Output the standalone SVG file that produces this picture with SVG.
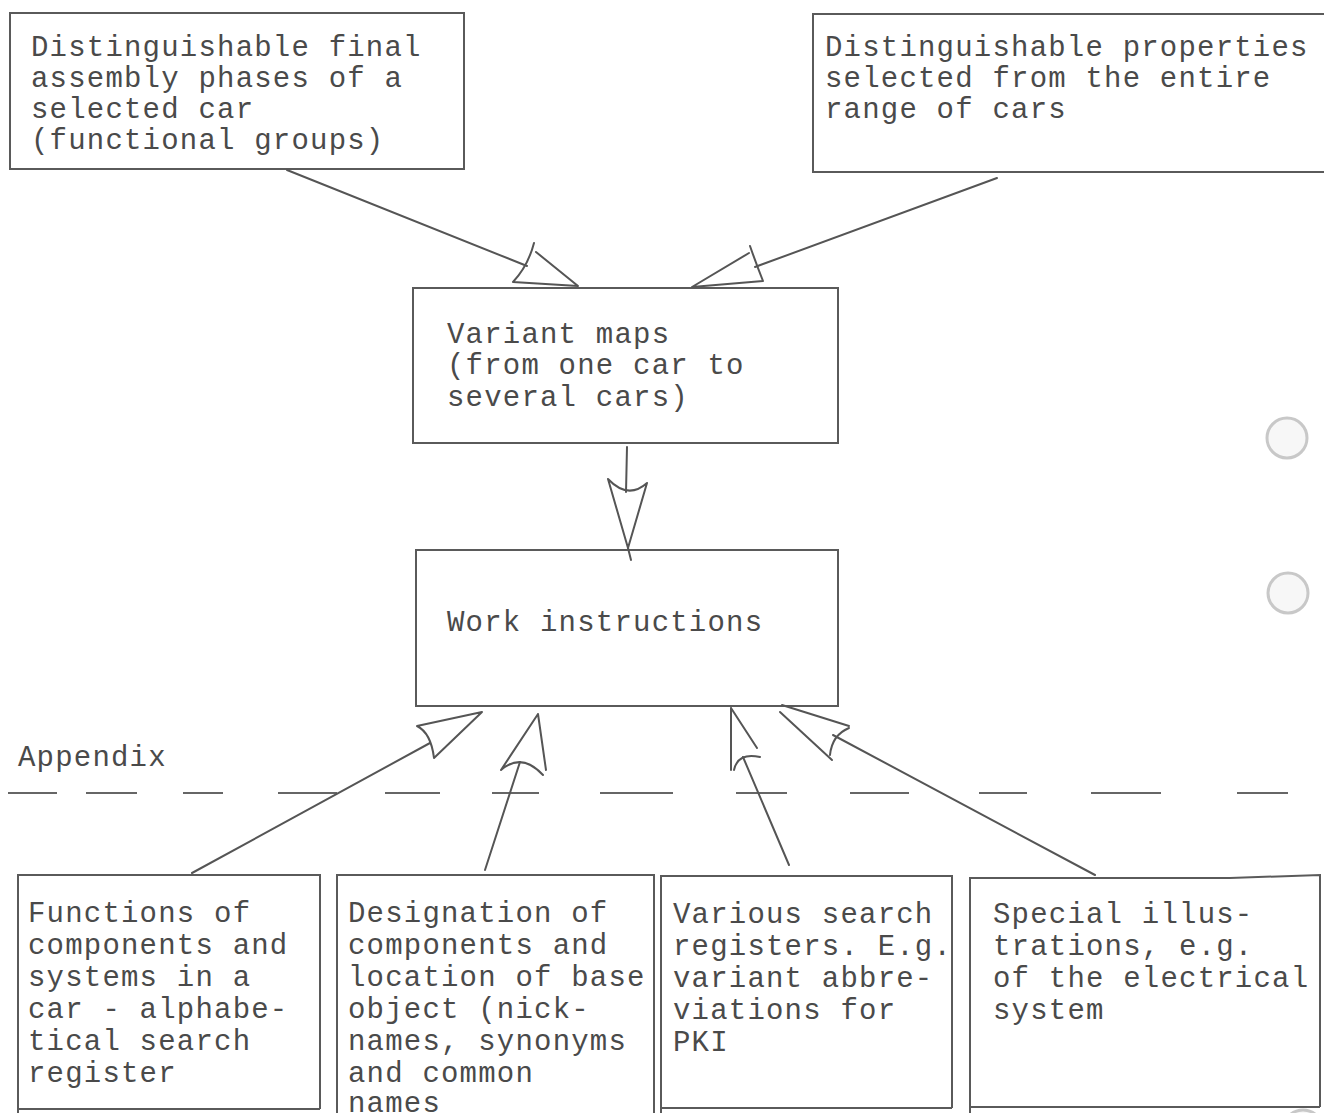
<svg xmlns="http://www.w3.org/2000/svg" width="1324" height="1113" viewBox="0 0 1324 1113">
<style>
.bx{fill:none;stroke:#5a5a5a;stroke-width:2}
.t{font-family:"Liberation Mono","DejaVu Sans Mono",monospace;font-size:29px;letter-spacing:1.2px;fill:#4a4a4a}
.ln{fill:none;stroke:#555;stroke-width:2;stroke-linecap:round;stroke-linejoin:round}
.dash{fill:none;stroke:#666;stroke-width:2}
.hole{fill:#f7f7f7;stroke:#c8c8c8;stroke-width:3}
</style>
<rect width="1324" height="1113" fill="#ffffff"/>

<g id="node-assembly">
<rect class="bx" x="10" y="13" width="454" height="156"/>
<text class="t" x="31" y="56">Distinguishable final</text>
<text class="t" x="31" y="87">assembly phases of a</text>
<text class="t" x="31" y="118">selected car</text>
<text class="t" x="31" y="149">(functional groups)</text>
</g>

<g id="node-properties">
<path class="bx" d="M1324,14 L813,14 L813,172 L1324,172"/>
<text class="t" x="825" y="56">Distinguishable properties</text>
<text class="t" x="825" y="87">selected from the entire</text>
<text class="t" x="825" y="118">range of cars</text>
</g>

<g id="node-variant">
<rect class="bx" x="413" y="288" width="425" height="155"/>
<text class="t" x="447" y="343">Variant maps</text>
<text class="t" x="447" y="374">(from one car to</text>
<text class="t" x="447" y="406">several cars)</text>
</g>

<g id="node-work">
<rect class="bx" x="416" y="550" width="422" height="156"/>
<text class="t" x="447" y="631">Work instructions</text>
</g>

<g id="appendix">
<text class="t" x="18" y="766">Appendix</text>
<path class="dash" d="M8,793H57 M86,793H137 M183,793H223 M278,793H337 M385,793H440 M492,793H539 M600,793H673 M736,793H787 M850,793H909 M979,793H1027 M1091,793H1161 M1237,793H1288"/>
</g>

<g id="node-functions">
<path class="bx" d="M18,1113 L18,875 L320,875 L320,1109 M18,1109 L320,1109"/>
<text class="t" x="28" y="922">Functions of</text>
<text class="t" x="28" y="954">components and</text>
<text class="t" x="28" y="986">systems in a</text>
<text class="t" x="28" y="1018">car - alphabe-</text>
<text class="t" x="28" y="1050">tical search</text>
<text class="t" x="28" y="1082">register</text>
</g>

<g id="node-designation">
<path class="bx" d="M337,1113 L337,875 L654,875 L654,1113"/>
<text class="t" x="348" y="922">Designation of</text>
<text class="t" x="348" y="954">components and</text>
<text class="t" x="348" y="986">location of base</text>
<text class="t" x="348" y="1018">object (nick-</text>
<text class="t" x="348" y="1050">names, synonyms</text>
<text class="t" x="348" y="1082">and common</text>
<text class="t" x="348" y="1112">names</text>
</g>

<g id="node-registers">
<path class="bx" d="M661,1113 L661,876 L952,876 L952,1108 M661,1108 L952,1108"/>
<text class="t" x="673" y="923">Various search</text>
<text class="t" x="673" y="955">registers. E.g.</text>
<text class="t" x="673" y="987">variant abbre-</text>
<text class="t" x="673" y="1019">viations for</text>
<text class="t" x="673" y="1051">PKI</text>
</g>

<g id="node-illustrations">
<path class="bx" d="M970,1113 L970,878 L1230,878 L1320,875 L1320,1107 M970,1107 L1320,1107"/>
<text class="t" x="993" y="923">Special illus-</text>
<text class="t" x="993" y="955">trations, e.g.</text>
<text class="t" x="993" y="987">of the electrical</text>
<text class="t" x="993" y="1019">system</text>
</g>

<g id="connectors">
<path class="ln" d="M287,170 L527,266"/>
<path class="ln" d="M534,243 Q528,266 513,282 L578,286 L536,252"/>
<path class="ln" d="M997,178 L755,267"/>
<path class="ln" d="M750,246 Q757,266 763,281 L692,287 L749,253"/>
<path class="ln" d="M627,447 L626,492 M628,548 L631,560"/>
<path class="ln" d="M608,479 Q628,500 647,483 M608,479 L628,548 L647,483"/>
<path class="ln" d="M192,873 L430,743"/>
<path class="ln" d="M482,712 L417,726 Q431,733 434,758 L482,712"/>
<path class="ln" d="M485,870 L520,762"/>
<path class="ln" d="M538,714 L501,770 M538,714 L546,770 M501,770 Q522,752 543,775"/>
<path class="ln" d="M789,865 L743,757"/>
<path class="ln" d="M731,708 L731,770 M731,708 L757,748 M734,770 Q738,752 760,757"/>
<path class="ln" d="M1095,875 L833,735"/>
<path class="ln" d="M782,705 L849,726 M780,712 L832,760 M849,728 Q832,735 830,755"/>
</g>

<g id="punch-holes">
<circle class="hole" cx="1287" cy="438" r="20"/>
<circle class="hole" cx="1288" cy="593" r="20"/>
<circle class="hole" cx="1303" cy="1130" r="20"/>
</g>
</svg>
